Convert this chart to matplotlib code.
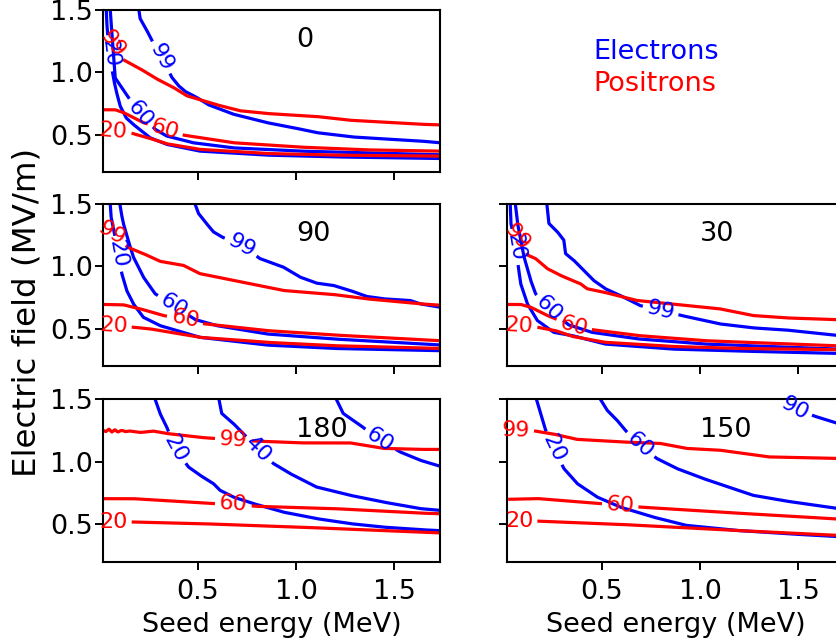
import numpy as np
import matplotlib
matplotlib.use("Agg")
import matplotlib.pyplot as plt

# ---------------- data ----------------
# Panel "0"
e0_20_x = [0.031, 0.034, 0.040, 0.051, 0.060, 0.071, 0.082, 0.102, 0.133, 0.168, 0.255, 0.340, 0.510, 0.851, 1.19, 1.735]
e0_20_y = [1.52, 1.40, 1.28, 1.149, 1.03, 0.93, 0.851, 0.730, 0.633, 0.583, 0.474, 0.421, 0.367, 0.335, 0.321, 0.308]
e0_60_x = [0.051, 0.056, 0.066, 0.077, 0.109, 0.141, 0.204, 0.281, 0.340, 0.474, 0.679, 1.02, 1.36, 1.735]
e0_60_y = [1.52, 1.40, 1.20, 0.953, 0.88, 0.805, 0.666, 0.542, 0.488, 0.434, 0.393, 0.367, 0.353, 0.338]
e0_99_x = [0.196, 0.204, 0.238, 0.264, 0.315, 0.366, 0.400, 0.434, 0.493, 0.553, 0.679, 0.851, 0.985, 1.105, 1.291, 1.633, 1.735]
e0_99_y = [1.52, 1.429, 1.335, 1.254, 1.119, 0.958, 0.891, 0.845, 0.797, 0.738, 0.663, 0.595, 0.555, 0.515, 0.480, 0.448, 0.434]
p0_20_x = [0.015, 0.068, 0.162, 0.255, 0.340, 0.510, 0.851, 1.19, 1.735]
p0_20_y = [0.528, 0.528, 0.510, 0.469, 0.426, 0.381, 0.348, 0.335, 0.327]
p0_60_x = [0.015, 0.077, 0.119, 0.170, 0.221, 0.332, 0.43, 0.68, 1.02, 1.36, 1.735]
p0_60_y = [0.698, 0.698, 0.676, 0.636, 0.595, 0.542, 0.494, 0.434, 0.399, 0.377, 0.367]
p0_99_x = [0.015, 0.065, 0.119, 0.204, 0.289, 0.374, 0.442, 0.510, 0.595, 0.714, 0.851, 1.105, 1.276, 1.633, 1.735]
p0_99_y = [1.32, 1.225, 1.098, 1.026, 0.945, 0.877, 0.810, 0.778, 0.738, 0.690, 0.668, 0.644, 0.614, 0.582, 0.577]

# Panel "90"
e90_20_x = [0.051, 0.056, 0.075, 0.093, 0.111, 0.136, 0.170, 0.221, 0.306, 0.425, 0.510, 0.851, 1.19, 1.735]
e90_20_y = [1.52, 1.398, 1.25, 1.102, 0.941, 0.806, 0.699, 0.591, 0.524, 0.470, 0.430, 0.368, 0.341, 0.323]
e90_60_x = [0.099, 0.109, 0.119, 0.145, 0.170, 0.221, 0.281, 0.374, 0.485, 0.595, 0.851, 1.19, 1.735]
e90_60_y = [1.52, 1.42, 1.344, 1.2, 1.075, 0.914, 0.780, 0.685, 0.573, 0.524, 0.457, 0.417, 0.369]
e90_99_x = [0.480, 0.502, 0.536, 0.578, 0.621, 0.723, 0.816, 0.935, 1.02, 1.105, 1.19, 1.276, 1.361, 1.446, 1.582, 1.633, 1.735]
e90_99_y = [1.52, 1.425, 1.357, 1.277, 1.236, 1.169, 1.062, 0.994, 0.914, 0.865, 0.847, 0.806, 0.758, 0.739, 0.726, 0.699, 0.672]
p90_20_x = [0.015, 0.068, 0.170, 0.255, 0.340, 0.510, 0.851, 1.19, 1.735]
p90_20_y = [0.524, 0.524, 0.511, 0.498, 0.476, 0.430, 0.390, 0.363, 0.341]
p90_60_x = [0.015, 0.119, 0.204, 0.323, 0.434, 0.536, 0.851, 1.19, 1.735]
p90_60_y = [0.694, 0.691, 0.659, 0.605, 0.575, 0.538, 0.484, 0.449, 0.403]
p90_99_x = [0.015, 0.06, 0.144, 0.221, 0.306, 0.425, 0.510, 0.680, 0.851, 0.935, 1.19, 1.361, 1.633, 1.735]
p90_99_y = [1.28, 1.264, 1.151, 1.102, 1.040, 1.008, 0.941, 0.887, 0.833, 0.806, 0.774, 0.739, 0.699, 0.688]

# Panel "30"
e30_20_x = [0.031, 0.035, 0.060, 0.074, 0.085, 0.119, 0.170, 0.254, 0.348, 0.517, 0.855, 1.193, 1.735]
e30_20_y = [1.52, 1.344, 1.156, 0.981, 0.860, 0.699, 0.565, 0.470, 0.444, 0.376, 0.336, 0.320, 0.300]
e30_60_x = [0.056, 0.069, 0.085, 0.102, 0.136, 0.161, 0.229, 0.330, 0.449, 0.686, 1.024, 1.735]
e30_60_y = [1.52, 1.344, 1.21, 1.075, 0.887, 0.780, 0.659, 0.530, 0.470, 0.417, 0.376, 0.334]
e30_99_x = [0.217, 0.229, 0.272, 0.305, 0.314, 0.356, 0.407, 0.457, 0.517, 0.593, 0.694, 0.80, 0.906, 1.1, 1.27, 1.439, 1.735]
e30_99_y = [1.52, 1.344, 1.277, 1.210, 1.102, 1.048, 0.968, 0.887, 0.820, 0.766, 0.685, 0.648, 0.605, 0.538, 0.506, 0.489, 0.440]
p30_20_x = [0.015, 0.077, 0.170, 0.263, 0.348, 0.517, 0.855, 1.193, 1.735]
p30_20_y = [0.524, 0.524, 0.511, 0.484, 0.438, 0.390, 0.357, 0.341, 0.330]
p30_60_x = [0.015, 0.085, 0.136, 0.221, 0.356, 0.457, 0.686, 1.024, 1.735]
p30_60_y = [0.694, 0.694, 0.672, 0.605, 0.519, 0.490, 0.444, 0.403, 0.360]
p30_99_x = [0.015, 0.069, 0.122, 0.161, 0.221, 0.288, 0.390, 0.424, 0.508, 0.678, 0.931, 1.1, 1.27, 1.439, 1.735]
p30_99_y = [1.30, 1.236, 1.089, 1.062, 0.981, 0.927, 0.860, 0.820, 0.793, 0.726, 0.685, 0.659, 0.605, 0.586, 0.570]

# Panel "180"
e180_20_x = [0.276, 0.306, 0.340, 0.383, 0.451, 0.510, 0.578, 0.612, 0.680, 0.782, 0.935, 1.105, 1.276, 1.446, 1.633, 1.735]
e180_20_y = [1.52, 1.385, 1.278, 1.106, 0.958, 0.892, 0.826, 0.772, 0.718, 0.666, 0.598, 0.546, 0.506, 0.478, 0.458, 0.450]
e180_40_x = [0.604, 0.621, 0.680, 0.731, 0.808, 0.884, 0.969, 1.105, 1.276, 1.446, 1.633, 1.735]
e180_40_y = [1.52, 1.385, 1.305, 1.225, 1.092, 0.986, 0.906, 0.798, 0.732, 0.678, 0.626, 0.612]
e180_60_x = [1.199, 1.241, 1.327, 1.429, 1.531, 1.633, 1.735]
e180_60_y = [1.52, 1.385, 1.292, 1.172, 1.078, 1.012, 0.964]
p180_20_x = [0.015, 0.068, 0.170, 0.510, 1.02, 1.633, 1.735]
p180_20_y = [0.519, 0.519, 0.519, 0.506, 0.478, 0.438, 0.432]
p180_60_x = [0.015, 0.170, 0.578, 0.680, 0.80, 1.19, 1.633, 1.735]
p180_60_y = [0.705, 0.705, 0.666, 0.660, 0.644, 0.626, 0.590, 0.585]
p180_99_x = [0.015, 0.03, 0.045, 0.06, 0.075, 0.09, 0.11, 0.13, 0.15, 0.204, 0.272, 0.340, 0.510, 0.578, 0.680, 0.80, 1.02, 1.276, 1.446, 1.633, 1.735]
p180_99_y = [1.25, 1.24, 1.26, 1.236, 1.255, 1.237, 1.25, 1.24, 1.245, 1.233, 1.244, 1.225, 1.194, 1.186, 1.175, 1.164, 1.150, 1.150, 1.106, 1.098, 1.098]

# Panel "150"
e150_20_x = [0.161, 0.187, 0.212, 0.254, 0.305, 0.373, 0.475, 0.593, 0.762, 0.931, 1.185, 1.439, 1.735]
e150_20_y = [1.52, 1.385, 1.252, 1.106, 0.946, 0.826, 0.718, 0.638, 0.558, 0.492, 0.452, 0.426, 0.400]
e150_60_x = [0.483, 0.525, 0.576, 0.618, 0.694, 0.779, 0.881, 1.016, 1.135, 1.27, 1.439, 1.735]
e150_60_y = [1.52, 1.412, 1.332, 1.252, 1.132, 1.026, 0.946, 0.866, 0.804, 0.732, 0.686, 0.620]
e150_90_x = [1.40, 1.486, 1.583, 1.735]
e150_90_y = [1.52, 1.426, 1.364, 1.290]
p150_20_x = [0.015, 0.077, 0.170, 0.593, 1.1, 1.735]
p150_20_y = [0.526, 0.526, 0.526, 0.500, 0.458, 0.410]
p150_60_x = [0.021, 0.170, 0.491, 0.593, 0.694, 1.1, 1.735]
p150_60_y = [0.700, 0.706, 0.666, 0.652, 0.638, 0.598, 0.540]
p150_99_x = [0.015, 0.060, 0.153, 0.254, 0.373, 0.593, 0.796, 0.931, 1.1, 1.354, 1.735]
p150_99_y = [1.252, 1.252, 1.246, 1.220, 1.178, 1.158, 1.146, 1.106, 1.092, 1.038, 1.025]

panel_names = ["0", "90", "30", "180", "150"]
x_ticks = [0.5, 1.0, 1.5]
y_ticks = [0.5, 1.0, 1.5]
x_label = "Seed energy (MeV)"
y_label = "Electric field (MV/m)"
legend_texts = ["Electrons", "Positrons"]

# ---------------- style / layout ----------------
W, H = 837, 643
DPI = 100
FS = 19.5
CFS = 16
LW = 2.3
BLUE = (0, 0, 1)
RED = (1, 0, 0)
XLIM = (0.015, 1.735)
YLIM = (0.2, 1.5)

plt.rcParams["font.family"] = ["DejaVu Sans"]
plt.rcParams["font.size"] = FS

fig = plt.figure(figsize=(W / DPI, H / DPI), dpi=DPI)


def px_axes(left, top, right, bottom):
    return [left / W, 1 - bottom / H, (right - left) / W, (bottom - top) / H]


col_l = (103, 440)
col_r = (507, 844)
rows = [(9.5, 172), (204, 366), (399, 562)]

axes_spec = {
    "0": (col_l, rows[0]),
    "90": (col_l, rows[1]),
    "30": (col_r, rows[1]),
    "180": (col_l, rows[2]),
    "150": (col_r, rows[2]),
}


def draw_curve(ax, xs, ys, color, label, li):
    xs = np.asarray(xs, float)
    ys = np.asarray(ys, float)
    segs = []
    for i in range(len(xs) - 1):
        t = np.linspace(0, 1, 60, endpoint=False)
        segs.append(np.column_stack([xs[i] + (xs[i + 1] - xs[i]) * t,
                                     ys[i] + (ys[i + 1] - ys[i]) * t]))
    segs.append(np.array([[xs[-1], ys[-1]]]))
    P = np.vstack(segs)
    D = ax.transData.transform(P)
    c = ax.transData.transform((xs[li], ys[li]))
    half = len(label) * 0.636 * CFS * DPI / 72 / 2 + 4
    dist = np.hypot(D[:, 0] - c[0], D[:, 1] - c[1])
    mask = dist < half
    idx = np.where(mask)[0]
    a, b = idx[0], idx[-1]
    a = max(a - 1, 0)
    b = min(b + 1, len(D) - 1)
    dx, dy = D[b] - D[a]
    ang = np.degrees(np.arctan2(dy, dx))
    if ang > 90:
        ang -= 180
    if ang < -90:
        ang += 180
    P2 = P.copy()
    P2[mask] = np.nan
    ax.plot(P2[:, 0], P2[:, 1], color=color, lw=LW, solid_capstyle="butt")
    ax.text(xs[li], ys[li], label, rotation=ang, rotation_mode="anchor",
            ha="center", va="center", color=color, fontsize=CFS, clip_on=False)


curves = {
    "0": [(e0_20_x, e0_20_y, BLUE, "20", 3), (e0_60_x, e0_60_y, BLUE, "60", 6),
          (e0_99_x, e0_99_y, BLUE, "99", 4), (p0_20_x, p0_20_y, RED, "20", 1),
          (p0_60_x, p0_60_y, RED, "60", 5), (p0_99_x, p0_99_y, RED, "99", 1)],
    "90": [(e90_20_x, e90_20_y, BLUE, "20", 3), (e90_60_x, e90_60_y, BLUE, "60", 7),
           (e90_99_x, e90_99_y, BLUE, "99", 5), (p90_20_x, p90_20_y, RED, "20", 1),
           (p90_60_x, p90_60_y, RED, "60", 4), (p90_99_x, p90_99_y, RED, "99", 1)],
    "30": [(e30_20_x, e30_20_y, BLUE, "20", 2), (e30_60_x, e30_60_y, BLUE, "60", 6),
           (e30_99_x, e30_99_y, BLUE, "99", 11), (p30_20_x, p30_20_y, RED, "20", 1),
           (p30_60_x, p30_60_y, RED, "60", 4), (p30_99_x, p30_99_y, RED, "99", 1)],
    "180": [(e180_20_x, e180_20_y, BLUE, "20", 3), (e180_40_x, e180_40_y, BLUE, "40", 4),
            (e180_60_x, e180_60_y, BLUE, "60", 3), (p180_20_x, p180_20_y, RED, "20", 1),
            (p180_60_x, p180_60_y, RED, "60", 3), (p180_99_x, p180_99_y, RED, "99", 14)],
    "150": [(e150_20_x, e150_20_y, BLUE, "20", 3), (e150_60_x, e150_60_y, BLUE, "60", 4),
            (e150_90_x, e150_90_y, BLUE, "90", 1), (p150_20_x, p150_20_y, RED, "20", 1),
            (p150_60_x, p150_60_y, RED, "60", 3), (p150_99_x, p150_99_y, RED, "99", 1)],
}

for name in panel_names:
    (l, r), (t, b) = axes_spec[name]
    ax = fig.add_axes(px_axes(l, t, r, b))
    ax.set_xlim(*XLIM)
    ax.set_ylim(*YLIM)
    ax.set_xticks(x_ticks)
    ax.set_yticks(y_ticks)
    ax.tick_params(length=6, width=1.4, labelsize=FS)
    ax.tick_params(axis="y", pad=1.5)
    ax.tick_params(axis="x", pad=6)
    for sp in ax.spines.values():
        sp.set_linewidth(1.5)
    if name not in ("0", "90", "180"):
        ax.set_yticklabels([])
    if name not in ("180", "150"):
        ax.set_xticklabels([])
    else:
        ax.set_xlabel(x_label, fontsize=FS, labelpad=5)
    for xs, ys, col, lab, li in curves[name]:
        draw_curve(ax, xs, ys, col, lab, li)
    ax.text(1.0, 1.2, name, fontsize=FS, color="black")

fig.text(27 / W, 1 - 312 / H, y_label, rotation=90, ha="center", va="center", fontsize=FS * 1.2)
fig.text(593 / W, 1 - 59 / H, legend_texts[0], color=BLUE, fontsize=FS, ha="left", va="baseline")
fig.text(593 / W, 1 - 91 / H, legend_texts[1], color=RED, fontsize=FS, ha="left", va="baseline")

fig.savefig("out.png", dpi=DPI)
